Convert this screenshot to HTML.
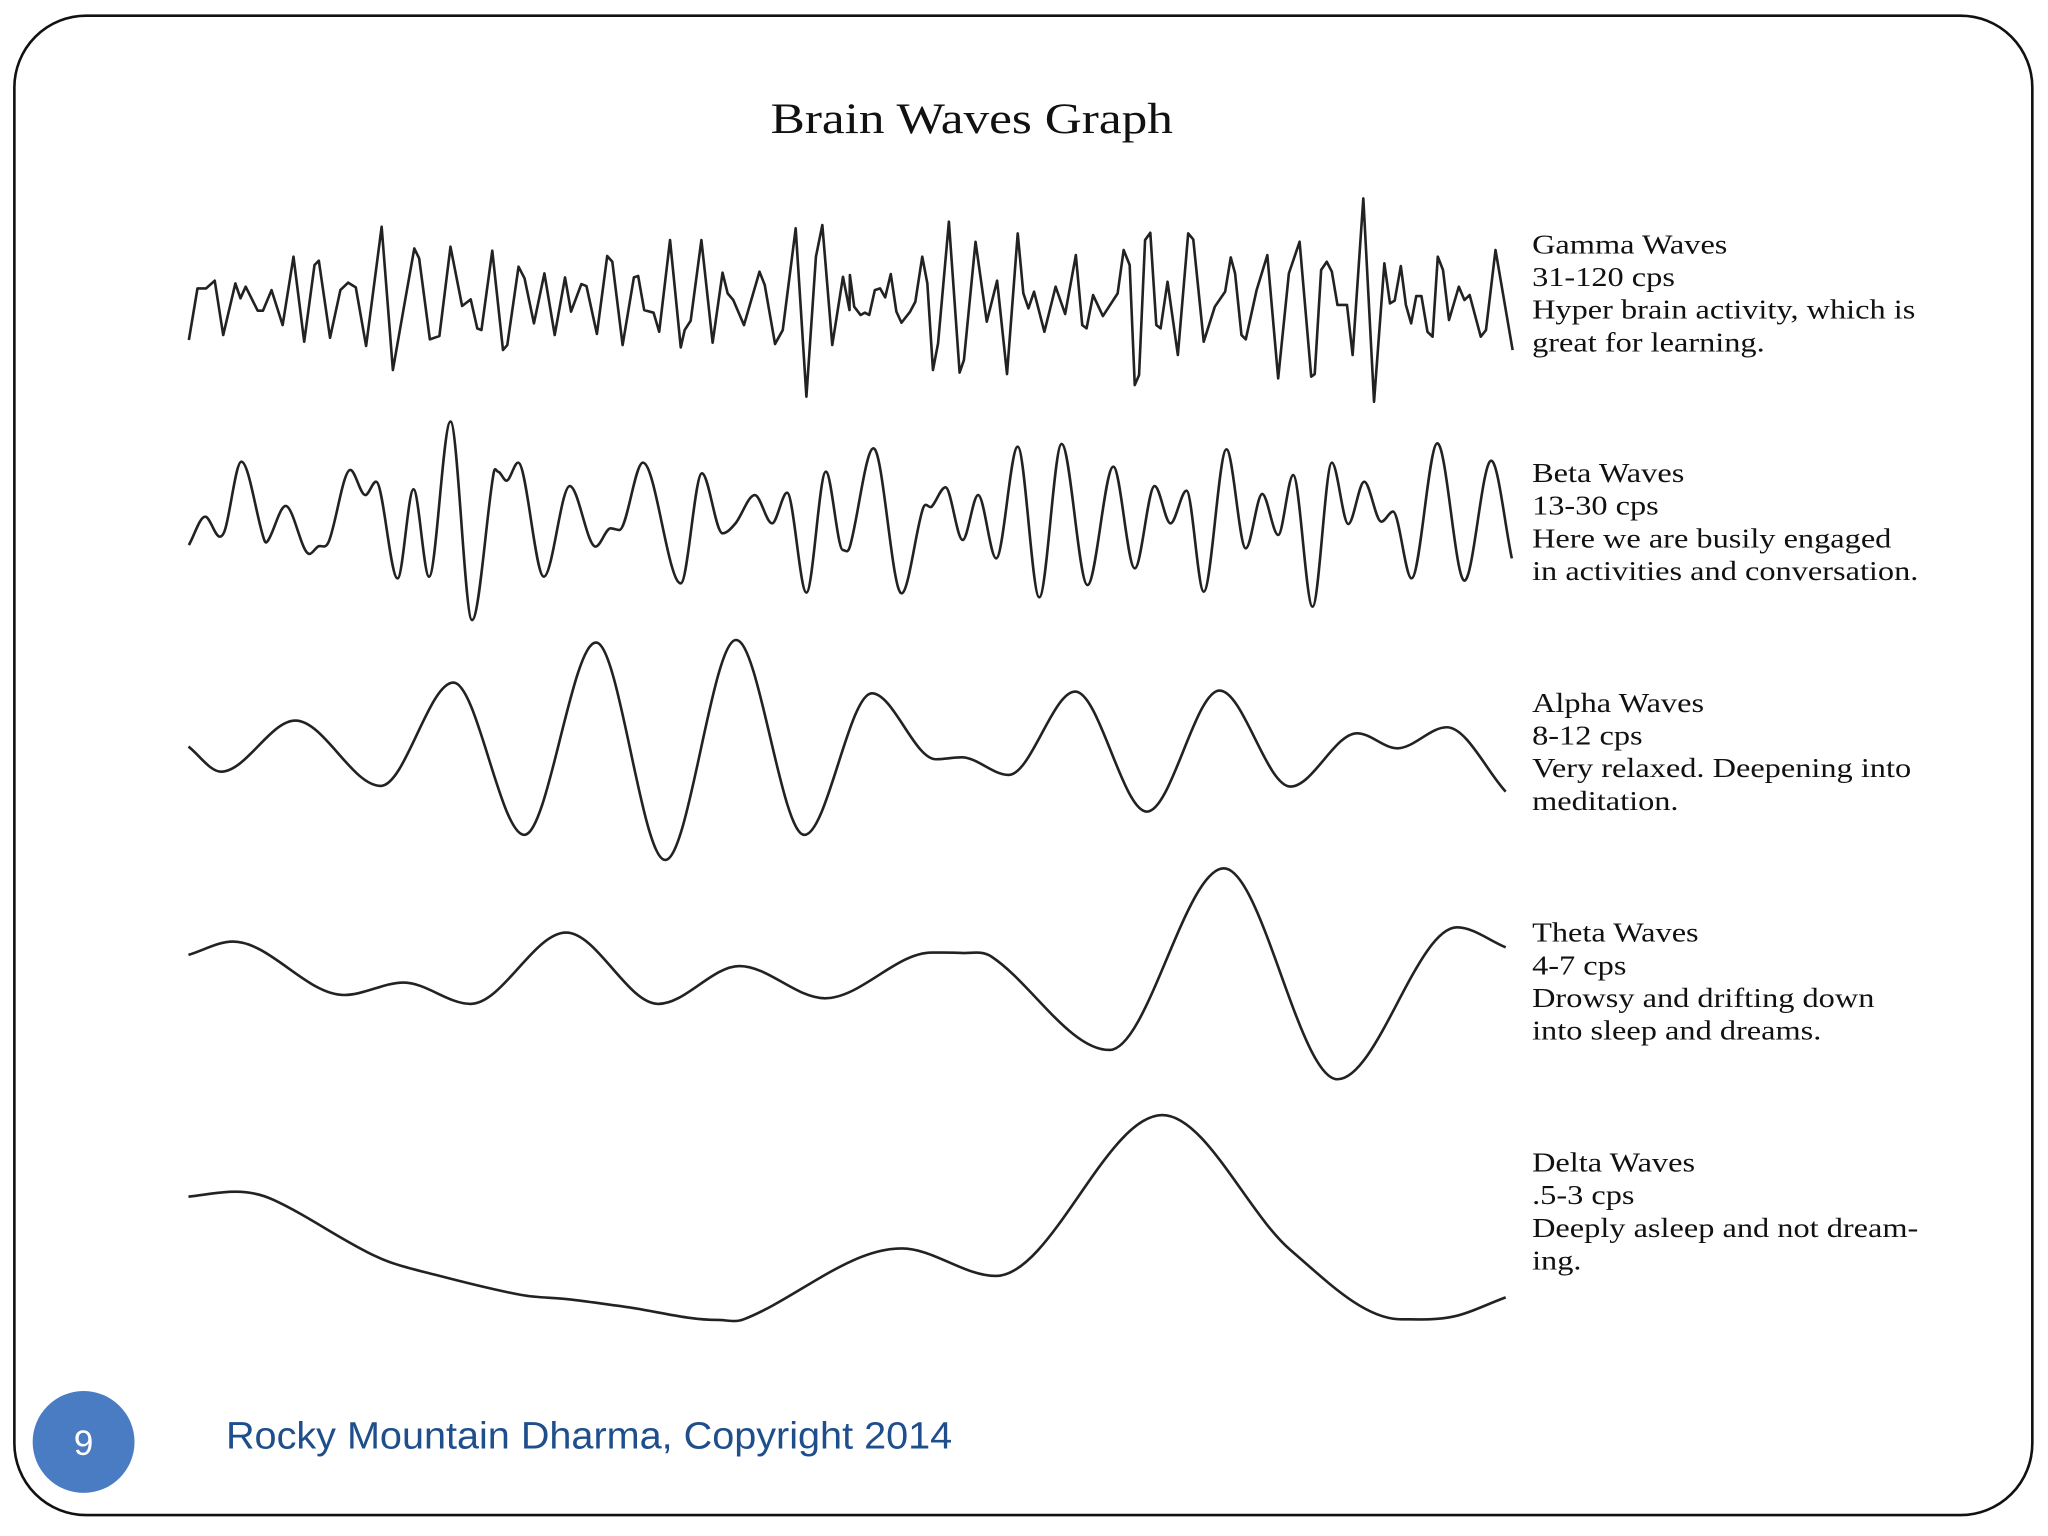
<!DOCTYPE html>
<html><head><meta charset="utf-8"><title>Brain Waves Graph</title>
<style>html,body{margin:0;padding:0;background:#fff;}svg{display:block;}</style></head>
<body>
<svg id="chart" width="2048" height="1536" viewBox="0 0 1568 1176" xmlns="http://www.w3.org/2000/svg">
<rect x="11" y="12" width="1545" height="1148" rx="55" ry="55" fill="#fff" stroke="#111" stroke-width="2"/>
<text x="590" y="102" textLength="308" lengthAdjust="spacingAndGlyphs" font-family="'Liberation Serif',serif" font-size="33" fill="#111">Brain Waves Graph</text>
<g font-family="'Liberation Serif',serif" font-size="21" fill="#111" transform="translate(1173,0) scale(1.18,1) translate(-1173,0)">
<text x="1173" y="194">Gamma Waves<tspan x="1173" dy="25">31-120 cps</tspan><tspan x="1173" dy="25">Hyper brain activity, which is</tspan><tspan x="1173" dy="25">great for learning.</tspan></text>
<text x="1173" y="369">Beta Waves<tspan x="1173" dy="25">13-30 cps</tspan><tspan x="1173" dy="25">Here we are busily engaged</tspan><tspan x="1173" dy="25">in activities and conversation.</tspan></text>
<text x="1173" y="545">Alpha Waves<tspan x="1173" dy="25">8-12 cps</tspan><tspan x="1173" dy="25">Very relaxed. Deepening into</tspan><tspan x="1173" dy="25">meditation.</tspan></text>
<text x="1173" y="721">Theta Waves<tspan x="1173" dy="25">4-7 cps</tspan><tspan x="1173" dy="25">Drowsy and drifting down</tspan><tspan x="1173" dy="25">into sleep and dreams.</tspan></text>
<text x="1173" y="897">Delta Waves<tspan x="1173" dy="25">.5-3 cps</tspan><tspan x="1173" dy="25">Deeply asleep and not dream-</tspan><tspan x="1173" dy="25">ing.</tspan></text>
</g>
<g id="waves"></g>
<circle cx="64" cy="1104" r="39" fill="#4a7cc4"/>
<text x="64" y="1114" text-anchor="middle" font-family="'Liberation Sans',sans-serif" font-size="27" fill="#fff">9</text>
<text x="173" y="1109" textLength="556" lengthAdjust="spacingAndGlyphs" font-family="'Liberation Sans',sans-serif" font-size="29" fill="#1f4e8c">Rocky Mountain Dharma, Copyright 2014</text>
</svg>
<script>
// Gamma readings (time units, deflection units; two recording segments)
const gammaT1=[20,40,60,80,100,128,140,152,180,192,212,238,263,288,312,322,348,372,390,408,432,468,494,520,544,555,580,602,628,655,675,690,700,725,750,760,786,800,822,846,870,894,908,932,944,968,992,1004,1028,1054,1064,1078,1100,1113,1138,1163,1172,1186,1211,1237,1260,1272,1285,1310,1346,1358,1382,1400,1430,1455,1477,1492,1515,1540,1555];
const gammaV1=[450,295,295,272,435,280,325,290,362,362,300,405,200,455,225,212,443,300,278,292,468,110,540,350,175,205,448,438,170,348,328,415,420,182,480,465,230,265,400,250,435,262,365,282,288,432,198,215,465,262,258,360,368,425,150,472,420,392,150,458,248,310,330,405,245,285,462,420,115,620,200,105,465,260,360];
const GAMMA_SEG2_START=1556;
const gammaT2=[0,10,25,35,45,58,70,82,95,108,120,140,152,168,180,193,205,230,255,265,292,318,342,365,390,403,415,428,452,478,500,525,540,550,565,588,622,636,650,662,672,686,698,712,722,738,762,786,798,822,848,872,885,895,910,920,945,970,995,1020,1045,1072,1080,1095,1108,1120,1133,1155,1168,1193,1218,1242,1255,1266,1280,1292,1304,1316,1328,1342,1354,1366,1378,1392,1415,1428,1440,1466,1478,1500,1540];
const gammaV2=[255,350,375,368,375,300,295,322,252,365,398,365,335,200,280,540,460,95,548,510,155,395,272,552,130,310,355,305,425,290,372,195,405,415,315,378,310,180,225,585,555,150,128,405,415,275,495,130,148,455,350,305,202,250,435,448,300,195,565,250,155,560,552,240,215,245,345,345,495,25,635,220,340,332,228,345,400,318,318,425,440,200,240,390,290,330,315,440,420,180,480];
// Beta readings
const betaT1=[20,58,92,105,142,195,205,245,300,320,345,395,430,455,505,542,578,628,678,728,738,758,785,845,905,965,1000,1020,1075,1163,1212,1260,1290,1335,1375,1410,1455,1500,1540];
const betaV1=[405,320,380,355,155,390,390,288,432,410,395,180,255,215,505,238,500,35,630,190,185,212,158,500,228,410,355,360,158,520,190,370,340,255,340,248,548,185,420];
const BETA_SEG2_START=1556;
const betaT2=[0,55,120,170,190,222,262,298,340,390,440,492,552,612,662,708,745,782,822,875,920,958,995,1030,1075,1120,1158,1195,1235,1262,1305,1365,1428,1490,1538];
const betaV2=[410,115,550,295,290,232,390,255,445,110,562,102,525,170,475,228,340,242,545,118,415,252,375,195,590,158,342,215,335,305,505,100,512,152,445];
// Alpha, theta, delta readings
const alphaT=[10,48,135,235,320,403,487,568,651,731,810,885,915,970,1048,1132,1217,1300,1378,1425,1483,1552];
const alphaV=[350,425,272,468,158,615,38,690,30,615,190,388,382,435,185,545,182,470,310,355,292,485];
const thetaT=[10,62,192,262,340,452,560,655,755,880,915,950,1088,1222,1355,1495,1552];
const thetaV=[285,245,405,368,432,218,432,318,415,278,279,290,570,25,658,202,262];
const deltaT=[10,65,110,230,300,400,455,520,630,660,845,955,1150,1300,1430,1490,1552];
const deltaV=[290,275,300,470,525,585,598,620,660,658,445,528,45,450,658,650,592];

const waves=document.getElementById('waves');
function xNarrow(t){return 138+t*0.3295;}
function xWide(t){return 137.8+t*0.654;}
function yAxis(top){return v=>top+v*0.2552;}
function linePath(pts){return pts.map((p,i)=>(i?'L':'M')+p[0].toFixed(1)+' '+p[1].toFixed(1)).join(' ');}
function smoothPath(pts){
  const n=pts.length,m=[];
  for(let i=0;i<n;i++){
    if(i===0||i===n-1){const a=pts[Math.max(0,i-1)],b=pts[Math.min(n-1,i+1)];m.push((b[1]-a[1])/(b[0]-a[0]));continue;}
    const a=pts[i-1],b=pts[i+1],c=pts[i];
    const ext=(c[1]-a[1])*(c[1]-b[1])>0;
    m.push(ext?0:(b[1]-a[1])/(b[0]-a[0]));
  }
  let d='M'+pts[0][0].toFixed(1)+' '+pts[0][1].toFixed(1);
  for(let i=0;i<n-1;i++){
    const p=pts[i],q=pts[i+1],h=(q[0]-p[0])/3;
    d+=' C'+(p[0]+h).toFixed(1)+' '+(p[1]+m[i]*h).toFixed(1)+' '+(q[0]-h).toFixed(1)+' '+(q[1]-m[i+1]*h).toFixed(1)+' '+q[0].toFixed(1)+' '+q[1].toFixed(1);
  }
  return d;
}
function addWave(name,d,w){
  const p=document.createElementNS('http://www.w3.org/2000/svg','path');
  p.setAttribute('d',d);p.setAttribute('fill','none');p.setAttribute('stroke','#222');
  p.setAttribute('stroke-width',w);p.setAttribute('stroke-linejoin','round');
  
  
  waves.appendChild(p);
}
const yG=yAxis(145.5),yB=yAxis(313.9),yA=yAxis(482.3),yT=yAxis(658.4),yD=yAxis(842.2);
const gPts=gammaT1.map((t,i)=>[xNarrow(t),yG(gammaV1[i])]).concat(gammaT2.map((t,i)=>[xNarrow(t+GAMMA_SEG2_START),yG(gammaV2[i])]));
addWave('gamma-wave',linePath(gPts),2);
const bPts=betaT1.map((t,i)=>[xNarrow(t),yB(betaV1[i])]).concat(betaT2.map((t,i)=>[xNarrow(t+BETA_SEG2_START),yB(betaV2[i])]));
addWave('beta-wave',smoothPath(bPts),2);
addWave('alpha-wave',smoothPath(alphaT.map((t,i)=>[xWide(t),yA(alphaV[i])])),2);
addWave('theta-wave',smoothPath(thetaT.map((t,i)=>[xWide(t),yT(thetaV[i])])),2);
addWave('delta-wave',smoothPath(deltaT.map((t,i)=>[xWide(t),yD(deltaV[i])])),2);
</script>
</body></html>
